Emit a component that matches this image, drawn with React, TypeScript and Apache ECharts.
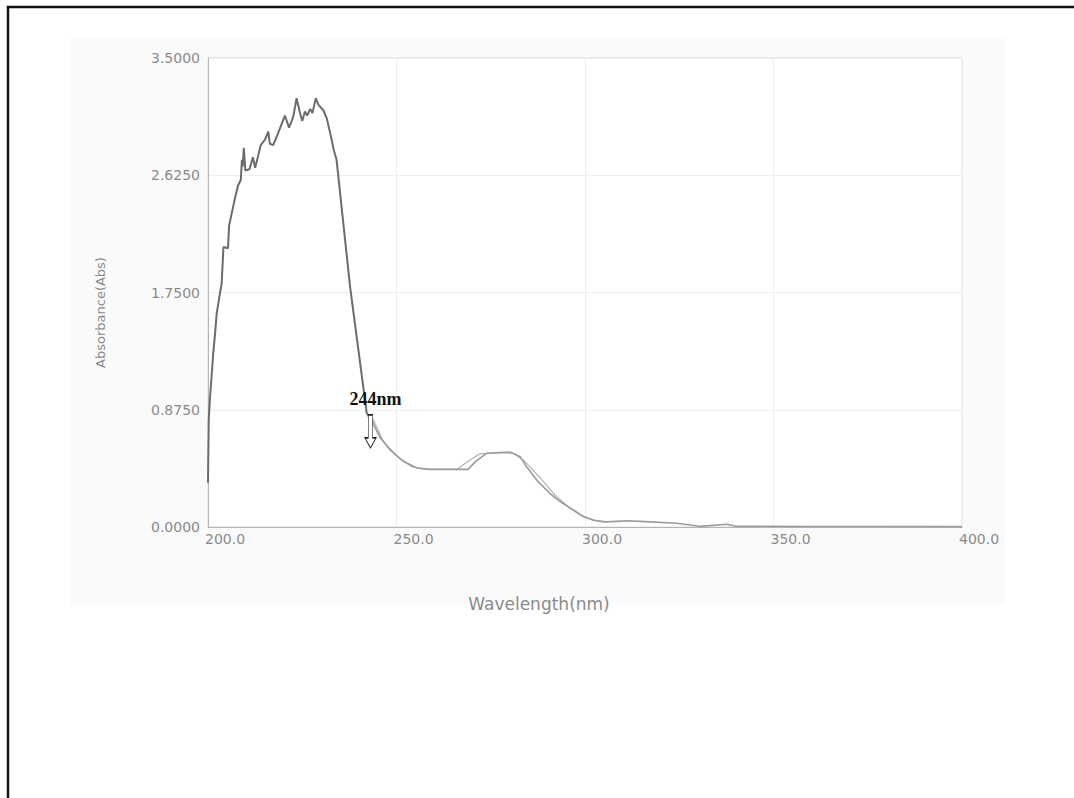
import React, { useEffect, useRef } from "react";
import * as echarts from "echarts";

// Main scan: rising band and peak (nm, Abs)
const peakWavelength = [
  200.0, 200.2, 200.5, 201.4, 201.9, 202.3, 203.2, 203.6, 204.1, 205.3, 205.6, 207.2, 208.0,
  208.7, 209.0, 209.2, 209.5, 209.9, 211.0, 211.9, 212.5, 214.0, 215.1, 216.0, 216.4, 217.3,
  218.6, 220.4, 221.5, 222.6, 223.5, 224.4, 225.0, 225.7, 226.3, 227.1, 227.7, 228.6, 229.3,
  230.6, 231.5, 232.8, 233.4, 234.1, 237.7, 242.1, 243.8,
];
const peakAbs = [
  0.33, 0.8, 0.95, 1.3, 1.45, 1.59, 1.75, 1.81, 2.09, 2.08, 2.25, 2.46, 2.55,
  2.59, 2.74, 2.69, 2.83, 2.66, 2.67, 2.76, 2.68, 2.85, 2.89, 2.95, 2.86, 2.85,
  2.94, 3.07, 2.98, 3.06, 3.2, 3.09, 3.03, 3.1, 3.07, 3.12, 3.09, 3.2, 3.15,
  3.11, 3.05, 2.89, 2.81, 2.74, 1.79, 0.85, 0.77,
];

// Tail of the overlapping scans (nm, Abs)
const tailWavelength = [
  243.8, 245.6, 248.3, 251.8, 255.4, 258.9, 269.0, 271.0, 273.9, 280.1, 282.8, 284.5, 287.5,
  290.7, 293.4, 296.9, 299.5, 302.2, 305.5, 311.1, 316.0, 324.3, 330.5, 337.6, 340.0, 360.0,
  380.0, 400.0,
];
const tailAbs = [
  0.77, 0.67, 0.575, 0.49, 0.44, 0.43, 0.43, 0.49, 0.55, 0.56, 0.525, 0.45, 0.34,
  0.25, 0.19, 0.127, 0.08, 0.05, 0.038, 0.047, 0.04, 0.028, 0.005, 0.02, 0.006, 0.004,
  0.004, 0.003,
];

const tail2Wavelength = [
  243.5, 244.5, 246.5, 250.0, 254.0, 258.0, 266.0, 267.5, 270.0, 272.0, 278.0, 281.0, 284.0,
  288.0, 292.0, 296.0, 300.0, 304.0, 310.0,
];
const tail2Abs = [
  0.82, 0.76, 0.64, 0.53, 0.45, 0.43, 0.43, 0.46, 0.51, 0.545, 0.555, 0.55, 0.49,
  0.37, 0.24, 0.14, 0.07, 0.04, 0.04,
];

const xTicks = [200, 250, 300, 350, 400];
const yTicks = [0, 0.875, 1.75, 2.625, 3.5];
const markerWavelength = 243.1;
const markerAbs = 0.59;
const markerLabel = "244nm";

const zip = (a: number[], b: number[]) => a.map((v, i) => [v, b[i]]);

export default function App() {
  const ref = useRef<HTMLDivElement>(null);
  useEffect(() => {
    if (!ref.current) return;
    const chart = echarts.init(ref.current, null, { renderer: "svg" });
    const labelFont = "DejaVu Sans, Verdana, sans-serif";
    chart.setOption({
      animation: false,
      backgroundColor: "#ffffff",
      graphic: [
        {
          type: "rect",
          z: -10,
          shape: { x: 70, y: 38, width: 935, height: 567 },
          style: { fill: "#fafafa" },
          silent: true,
        },
        {
          type: "polyline",
          z: 10,
          shape: { points: [[8, 800], [8, 7], [1080, 7]] },
          style: { stroke: "#111", lineWidth: 2.5, fill: "none" },
          silent: true,
        },
      ],
      grid: {
        left: 208,
        right: 112,
        top: 58,
        bottom: 271,
        show: true,
        backgroundColor: "#ffffff",
        borderColor: "#dddddd",
        borderWidth: 1,
      },
      xAxis: {
        type: "value",
        min: xTicks[0],
        max: xTicks[xTicks.length - 1],
        interval: 50,
        axisLine: { show: true, onZero: false, lineStyle: { color: "#b5b5b5" } },
        axisTick: { show: false },
        splitLine: { show: true, lineStyle: { color: "#eeeeee" } },
        axisLabel: {
          formatter: (v: number) => v.toFixed(1),
          color: "#8a8a8a",
          fontFamily: labelFont,
          fontSize: 14,
          align: "left",
          margin: 5,
          padding: [0, 0, 0, -3],
        },
        name: "Wavelength(nm)",
        nameLocation: "middle",
        nameGap: 68,
        nameTextStyle: {
          color: "#8a8a8a",
          fontFamily: labelFont,
          fontSize: 17,
          padding: [0, 92, 0, 0],
        },
      },
      yAxis: {
        type: "value",
        min: yTicks[0],
        max: yTicks[yTicks.length - 1],
        interval: 0.875,
        axisLine: { show: true, lineStyle: { color: "#b5b5b5" } },
        axisTick: { show: false },
        splitLine: { show: true, lineStyle: { color: "#eeeeee" } },
        axisLabel: {
          formatter: (v: number) => v.toFixed(4),
          color: "#8a8a8a",
          fontFamily: labelFont,
          fontSize: 14,
          margin: 8,
        },
        name: "Absorbance(Abs)",
        nameLocation: "middle",
        nameGap: 101,
        nameTextStyle: {
          color: "#8a8a8a",
          fontFamily: labelFont,
          fontSize: 13,
          padding: [0, 40, 0, 0],
        },
      },
      series: [
        {
          name: "scan-2",
          type: "line",
          data: zip(tail2Wavelength, tail2Abs),
          showSymbol: false,
          lineStyle: { color: "#b0b0b0", width: 1.2 },
          z: 2,
        },
        {
          name: "scan-tail",
          type: "line",
          data: zip(tailWavelength, tailAbs),
          showSymbol: false,
          lineStyle: { color: "#9c9c9c", width: 1.6 },
          z: 3,
        },
        {
          name: "scan-peak",
          type: "line",
          data: zip(peakWavelength, peakAbs),
          showSymbol: false,
          lineStyle: { color: "#6c6c6c", width: 2 },
          z: 4,
          markPoint: {
            silent: true,
            symbol: "path://M3,0 L7,0 L7,23 L10,23 L5,33 L0,23 L3,23 Z",
            symbolSize: [11, 33],
            symbolOffset: [0, "-50%"],
            itemStyle: { color: "#ffffff", borderColor: "#222", borderWidth: 1 },
            label: {
              show: true,
              position: "top",
              distance: 6,
              offset: [5, 0],
              formatter: markerLabel,
              color: "#111",
              fontFamily: "Liberation Serif, DejaVu Serif, serif",
              fontWeight: "bold",
              fontSize: 18,
            },
            data: [{ coord: [markerWavelength, markerAbs] }],
          },
        },
      ],
    });
    return () => chart.dispose();
  }, []);
  return (
    <div
      ref={ref}
      style={{ position: "absolute", left: 0, top: 0, width: 1074, height: 798 }}
    />
  );
}
